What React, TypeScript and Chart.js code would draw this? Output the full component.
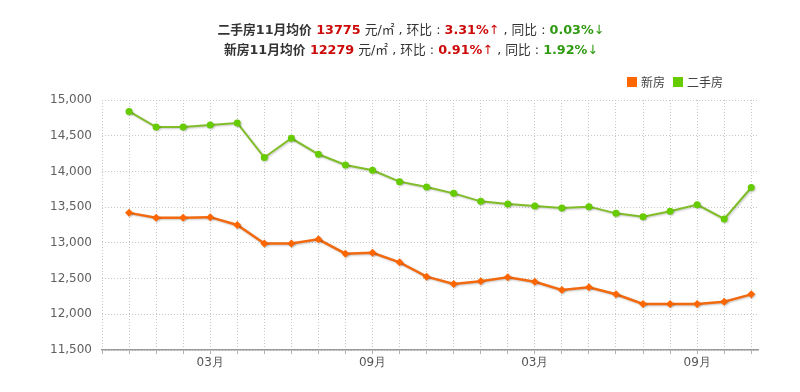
import React, { useEffect, useRef } from 'react';
import { Chart, registerables } from 'chart.js';

Chart.register(...registerables);

const months = ['12月', '01月', '02月', '03月', '04月', '05月', '06月', '07月', '08月', '09月', '10月', '11月',
  '12月', '01月', '02月', '03月', '04月', '05月', '06月', '07月', '08月', '09月', '10月', '11月'];
const shownTickLabels = ['03月', '09月'];
const newHouse = [13420, 13352, 13352, 13360, 13250, 12990, 12990, 13050, 12848, 12862, 12728, 12527,
  12424, 12462, 12518, 12456, 12340, 12378, 12280, 12144, 12144, 12144, 12176, 12279];
const secondHand = [14840, 14622, 14622, 14650, 14678, 14195, 14464, 14240, 14090, 14016, 13857, 13782,
  13693, 13581, 13544, 13516, 13488, 13507, 13413, 13367, 13442, 13535, 13334, 13775];
const yTicks = [11500, 12000, 12500, 13000, 13500, 14000, 14500, 15000];

const RED = '#cc0a0a';
const GREEN = '#2f9a12';

const shadowPlugin = {
  id: 'lineShadow',
  beforeDatasetDraw(chart: any) {
    const ctx = chart.ctx;
    ctx.save();
    ctx.shadowColor = 'rgba(0,0,0,0.22)';
    ctx.shadowBlur = 2;
    ctx.shadowOffsetX = 1;
    ctx.shadowOffsetY = 1;
  },
  afterDatasetDraw(chart: any) {
    chart.ctx.restore();
  },
};

export default function App() {
  const ref = useRef<HTMLCanvasElement | null>(null);

  useEffect(() => {
    document.body.style.margin = '0';
    const canvas = ref.current;
    if (!canvas) return;
    const chart = new Chart(canvas, {
      type: 'line',
      data: {
        datasets: [
          {
            label: '新房',
            data: newHouse.map((v, i) => ({ x: i, y: v })),
            borderColor: '#f26a10',
            backgroundColor: '#ff6600',
            pointBackgroundColor: '#ff6600',
            pointBorderColor: '#ff6600',
            pointStyle: 'rectRot',
            pointRadius: 4,
            pointBorderWidth: 0,
            borderWidth: 2.5,
            tension: 0,
          },
          {
            label: '二手房',
            data: secondHand.map((v, i) => ({ x: i, y: v })),
            borderColor: '#80bd28',
            backgroundColor: '#66cc00',
            pointBackgroundColor: '#66cc00',
            pointBorderColor: '#66cc00',
            pointStyle: 'circle',
            pointRadius: 3.5,
            pointBorderWidth: 0,
            borderWidth: 2,
            tension: 0,
          },
        ],
      },
      options: {
        responsive: false,
        animation: false,
        devicePixelRatio: 1,
        layout: { padding: { left: 0, right: 42, top: 100, bottom: 0 } },
        plugins: {
          legend: { display: false },
          tooltip: { enabled: false },
          title: { display: false },
        },
        scales: {
          x: {
            type: 'linear',
            min: -1,
            max: 23.25,
            afterBuildTicks: (s: any) => {
              s.ticks = [-1, ...months.map((_, i) => i)].map((v) => ({ value: v }));
            },
            afterFit: (s: any) => {
              s.height = 42;
            },
            ticks: {
              autoSkip: false,
              maxRotation: 0,
              padding: 2,
              color: '#555',
              font: { family: 'DejaVu Sans', size: 12 },
              callback: (v: any) => {
                const m = months[v as number];
                return m && shownTickLabels.includes(m) ? m : '';
              },
            },
            grid: {
              color: '#c8c8c8',
              lineWidth: 1,
              tickColor: '#b0b0b0',
              tickLength: 4,
              tickBorderDash: [],
            },
            border: { display: true, color: '#999', width: 1.5, dash: [1, 2] },
          },
          y: {
            min: 11500,
            max: 15000,
            afterBuildTicks: (s: any) => {
              s.ticks = yTicks.map((v) => ({ value: v }));
            },
            afterFit: (s: any) => {
              s.width = 102;
            },
            ticks: {
              padding: 10,
              color: '#606060',
              font: { family: 'DejaVu Sans', size: 12 },
              callback: (v: any) => Number(v).toLocaleString('en-US'),
            },
            grid: { color: '#c8c8c8', lineWidth: 1, drawTicks: false },
            border: { display: false, dash: [1, 2] },
          },
        },
      },
      plugins: [shadowPlugin],
    } as any);
    return () => chart.destroy();
  }, []);

  const titleFont = '"DejaVu Sans", "Noto Sans CJK SC", sans-serif';
  const cjk = '"Noto Sans CJK SC", sans-serif';
  const line = { height: 20, lineHeight: '20px', whiteSpace: 'pre' as const };
  const arrow = { fontWeight: 400 as const };
  return (
    <div style={{ position: 'fixed', left: 0, top: 0, width: 800, height: 392, background: '#fff', overflow: 'hidden' }}>
      <canvas ref={ref} width={800} height={392} style={{ position: 'absolute', left: 0, top: 0, width: 800, height: 392 }} />
      <div style={{ position: 'absolute', left: 0, top: 20, width: 822, textAlign: 'center', fontFamily: titleFont, fontSize: 12.75, color: '#333' }}>
        <div style={line}>
          <b>二手房11月均价 </b><b style={{ color: RED }}>13775</b> 元/㎡ , 环比 : <b style={{ color: RED }}>3.31%<span style={arrow}>↑</span></b> , 同比 : <b style={{ color: GREEN }}>0.03%<span style={arrow}>↓</span></b>
        </div>
        <div style={line}>
          <b>新房11月均价 </b><b style={{ color: RED }}>12279</b> 元/㎡ , 环比 : <b style={{ color: RED }}>0.91%<span style={arrow}>↑</span></b> , 同比 : <b style={{ color: GREEN }}>1.92%<span style={arrow}>↓</span></b>
        </div>
      </div>
      <div style={{ position: 'absolute', top: 74, left: 627, fontFamily: cjk, fontSize: 12, color: '#444', display: 'flex', alignItems: 'center', lineHeight: '16px' }}>
        <span style={{ display: 'inline-block', width: 10, height: 10, background: '#ff6600', marginRight: 4 }} />
        <span style={{ marginRight: 8 }}>新房</span>
        <span style={{ display: 'inline-block', width: 10, height: 10, background: '#66cc00', marginRight: 4 }} />
        <span>二手房</span>
      </div>
    </div>
  );
}
